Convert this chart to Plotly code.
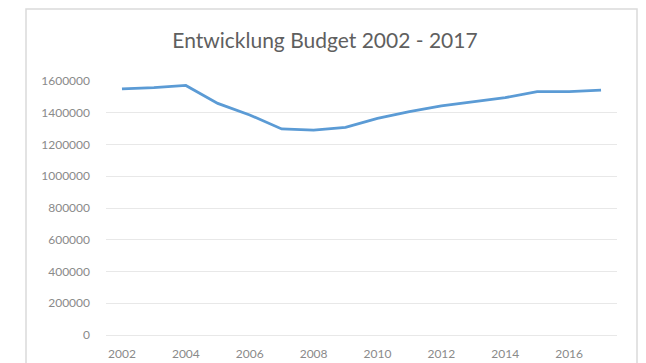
import plotly.graph_objects as go

years = list(range(2002, 2018))
budget = [1550000, 1558000, 1572000, 1459000, 1386000, 1298000, 1291000, 1308000,
          1365000, 1407000, 1444000, 1470000, 1495000, 1533000, 1533000, 1543000]
y_ticks = [0, 200000, 400000, 600000, 800000, 1000000, 1200000, 1400000, 1600000]
x_ticks = [2002, 2004, 2006, 2008, 2010, 2012, 2014, 2016]
title_text = "Entwicklung Budget 2002 - 2017"

W, H = 646, 363
L, R, T, B = 106, 29, 81, 28
pw, ph = W - L - R, H - T - B

def px_x(p):
    return (p - L) / pw

def px_y(p):
    return (H - B - p) / ph

fig = go.Figure()
fig.add_trace(go.Scatter(x=years, y=budget, mode="lines",
                         line=dict(color="#5B9BD5", width=2.8),
                         hoverinfo="x+y", showlegend=False))

fig.update_layout(
    width=W, height=H,
    margin=dict(l=L, r=R, t=T, b=B, autoexpand=False),
    paper_bgcolor="white", plot_bgcolor="white",
    font=dict(family="Lato, Liberation Sans, sans-serif", color="#8a8a8a", size=12),
    title=dict(text=title_text, x=325 / W, xref="container", xanchor="center",
               y=1 - 41 / H, yref="container", yanchor="middle",
               font=dict(size=21, color="#5f5f5f", family="Lato, Liberation Sans, sans-serif")),
    xaxis=dict(range=[2001.5, 2017.5], tickvals=x_ticks, showgrid=False,
               zeroline=False, showline=False, ticks="", ticklabelstandoff=10,
               automargin=False),
    yaxis=dict(range=[0, 1600000], tickvals=y_ticks, tickformat="d",
               showgrid=True, gridcolor="#e8e8e8", gridwidth=1,
               zeroline=True, zerolinecolor="#e8e8e8", zerolinewidth=1,
               showline=False, ticks="", ticklabelstandoff=15, automargin=False),
    shapes=[dict(type="rect", xref="paper", yref="paper",
                 x0=px_x(26), x1=px_x(637), y0=px_y(372), y1=px_y(9),
                 line=dict(color="#dadada", width=1.5), fillcolor="rgba(0,0,0,0)",
                 layer="below")],
)

fig.write_html("out.html")
